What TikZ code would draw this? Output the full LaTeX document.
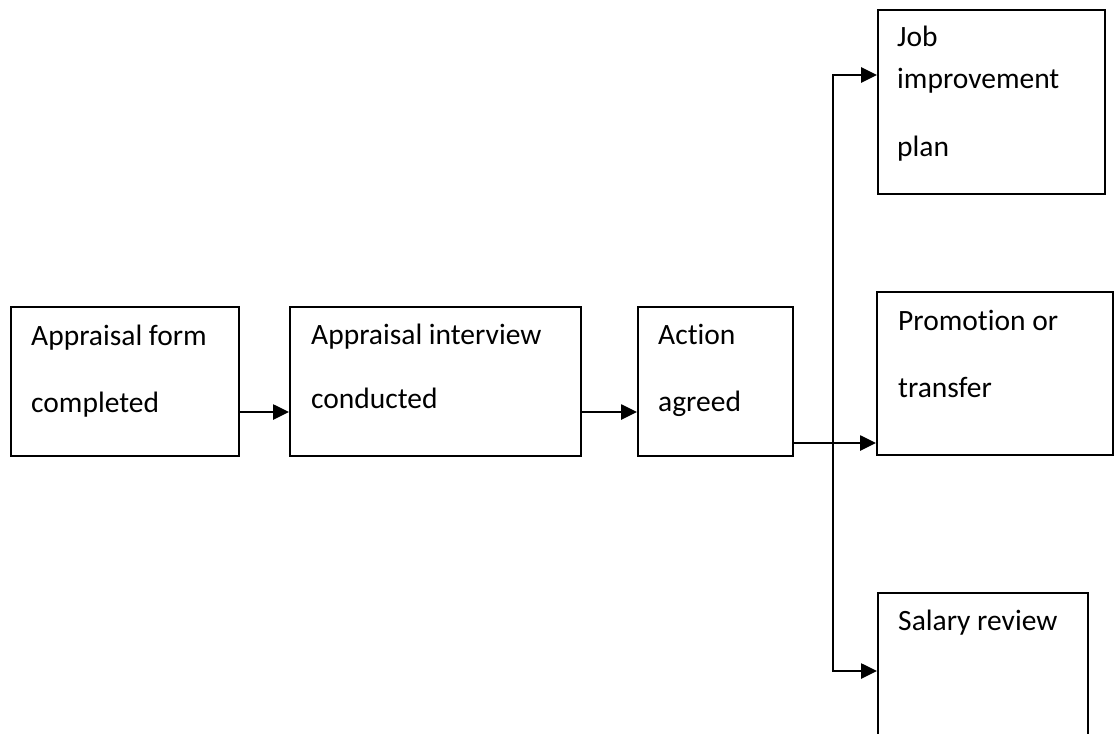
\documentclass[tikz,border=0pt]{standalone}
\usepackage{fontspec}
\setmainfont{Carlito}[Ligatures=NoCommon]
\usetikzlibrary{arrows.meta}

\begin{document}
\begin{tikzpicture}[x=1pt,y=-1pt,
    box/.style={draw,line width=2.4pt,rectangle,inner sep=0pt,anchor=north west},
    arrow/.style={line width=2.6pt,-{Triangle[length=16pt,width=15pt]}}]
            \useasboundingbox (0,0) rectangle (1115,733);
            \clip (0,0) rectangle (1115,733);
            \foreach \name/\x/\y/\w/\h in {form/10/306/228/149,interview/289/306/291/149,action/637/306/155/149,job/877/9/227/184,promo/876/291/236/163,salary/877/592/210/168}{
                \node[box,minimum width=\w pt,minimum height=\h pt] (\name) at (\x,\y) {};
            }
            \foreach \name/\x/\y/\txt in {forma/31/345/Appraisal form,formb/31/412/completed,interviewa/311/344/Appraisal interview,interviewb/311/408/conducted,actiona/658/344/Action,actionb/658/411/agreed,joba/897/47/Job,jobb/897/89/improvement,jobc/897/156/plan,promoa/898/330/Promotion or,promob/898/397/transfer,salarya/898/630/Salary review}{
                \node[anchor=base west,inner sep=0pt,font=\fontsize{29.5}{35}\selectfont] (\name) at (\x,\y) {\txt};
            }
            \coordinate (row) at (0,412);
            \coordinate (fork) at (833,443);
            \draw[arrow] (form.east |- row)--(interview.west |- row);
            \draw[arrow] (interview.east |- row)--(action.west |- row);
            \draw[arrow] (action.east |- fork)--(promo.west |- fork);
            \draw[arrow] (fork) |- (job.west |- 0,75);
            \draw[arrow] (fork) |- (salary.west |- 0,671);
        \end{tikzpicture}
\end{document}
